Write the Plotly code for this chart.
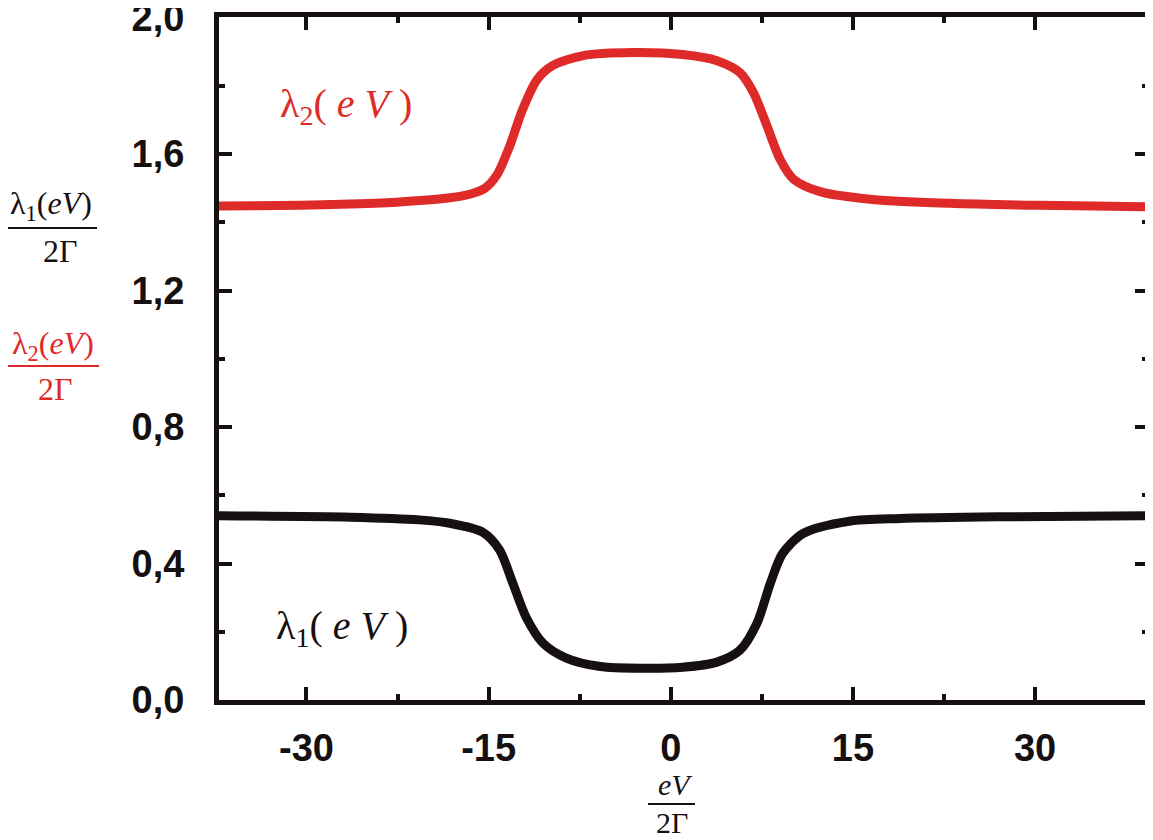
import plotly.graph_objects as go

# curva vermelha: lambda_2(eV) / 2Gamma
x_l2 = [-37.2, -30.5, -26.4, -22.3, -18.2, -16.4, -15.3, -14.3, -13.3, -12.2, -11.0, -9.7, -7.2,
        -3.1, 1.0, 3.8, 5.7, 6.8, 7.9, 9.0, 10.1, 12.3, 16.4, 23.0, 30.4, 39.3]
y_l2 = [1.448, 1.450, 1.454, 1.460, 1.472, 1.484, 1.500, 1.540, 1.620, 1.731, 1.819, 1.860, 1.889,
        1.898, 1.892, 1.874, 1.839, 1.781, 1.685, 1.585, 1.527, 1.490, 1.468, 1.456, 1.450, 1.446]

# curva preta: lambda_1(eV) / 2Gamma
x_l1 = [-37.2, -26.4, -20.7, -18.2, -15.5, -14.1, -13.0, -11.9, -10.5, -8.6, -5.8, -2.3,
        1.0, 3.8, 5.7, 7.1, 8.2, 9.2, 10.9, 14.7, 18.9, 27.1, 39.3]
y_l1 = [0.540, 0.536, 0.528, 0.518, 0.492, 0.440, 0.342, 0.242, 0.166, 0.123, 0.098, 0.093,
        0.096, 0.111, 0.146, 0.225, 0.342, 0.429, 0.488, 0.524, 0.532, 0.537, 0.540]

x_ticks = [-30, -15, 0, 15, 30]
x_ticktext = ["-30", "-15", "0", "15", "30"]
y_ticks = [0.0, 0.4, 0.8, 1.2, 1.6, 2.0]
y_ticktext = ["0,0", "0,4", "0,8", "1,2", "1,6", "2,0"]

VERMELHO = "#df2a2a"
PRETO = "#161010"

# a página tem margem de 8px no body
OFF = 8
W, H = 1145, 832
L, R, T, B = 211, 5, 9, 140
pw, ph = W - L - R, H - T - B


def px(x):
    return (x - OFF - L) / pw


def py(y):
    return (H - B - (y - OFF)) / ph


fig = go.Figure()
fig.add_trace(go.Scatter(x=x_l2, y=y_l2, mode="lines",
                         line=dict(color=VERMELHO, width=9, shape="spline", smoothing=0.8)))
fig.add_trace(go.Scatter(x=x_l1, y=y_l1, mode="lines",
                         line=dict(color=PRETO, width=9, shape="spline", smoothing=0.8)))

eixo = dict(
    showline=True, linewidth=5, linecolor=PRETO, mirror="allticks",
    ticks="inside", ticklen=13, tickwidth=4, tickcolor=PRETO,
    showgrid=False, zeroline=False, automargin=False,
    tickfont=dict(family="Liberation Sans", size=38, color=PRETO, weight="bold"),
    ticklabeloverflow="allow",
)
fig.update_xaxes(**eixo, range=[-37.2, 39.3], tickvals=x_ticks, ticktext=x_ticktext,
                 ticklabelstandoff=10,
                 minor=dict(ticks="inside", ticklen=6, tickwidth=4, tickcolor=PRETO,
                            tickvals=[-22.5, -7.5, 7.5, 22.5]))
fig.update_yaxes(**eixo, range=[0, 2.002], tickvals=y_ticks, ticktext=y_ticktext,
                 ticklabelstandoff=22,
                 minor=dict(ticks="inside", ticklen=6, tickwidth=4, tickcolor=PRETO,
                            tickvals=[0.2, 0.6, 1.0, 1.4, 1.8]))

serif = "Liberation Serif"
anots = [
    # rótulos dentro do gráfico
    dict(text="λ<sub>2</sub>( <i>e V</i> )", x=px(346), y=py(106), color=VERMELHO, size=40),
    dict(text="λ<sub>1</sub>( <i>e V</i> )", x=px(342), y=py(628), color=PRETO, size=40),
    # fração preta do eixo y
    dict(text="λ<sub>1</sub>(<i>eV</i>)", x=px(51), y=py(205), color=PRETO, size=32),
    dict(text="2Γ", x=px(60), y=py(251), color=PRETO, size=32),
    # fração vermelha do eixo y
    dict(text="λ<sub>2</sub>(<i>eV</i>)", x=px(53), y=py(345), color=VERMELHO, size=32),
    dict(text="2Γ", x=px(55), y=py(389), color=VERMELHO, size=32),
    # fração do eixo x
    dict(text="<i>eV</i>", x=px(675), y=py(784), color=PRETO, size=30),
    dict(text="2Γ", x=px(672), y=py(822), color=PRETO, size=30),
]
for a in anots:
    fig.add_annotation(text=a["text"], x=a["x"], y=a["y"], xref="paper", yref="paper",
                       showarrow=False, xanchor="center", yanchor="middle",
                       font=dict(family=serif, size=a["size"], color=a["color"]))

barras = [(3, 97, 228, PRETO), (4, 99, 366, VERMELHO), (648, 695, 804, PRETO)]
for x0, x1, yb, cor in barras:
    fig.add_shape(type="line", xref="paper", yref="paper",
                  x0=px(x0), x1=px(x1), y0=py(yb), y1=py(yb),
                  line=dict(color=cor, width=2))

fig.update_layout(
    width=W, height=H,
    margin=dict(l=L, r=R, t=T, b=B, autoexpand=False),
    paper_bgcolor="white", plot_bgcolor="white",
    showlegend=False,
)

fig.write_html("out.html")
